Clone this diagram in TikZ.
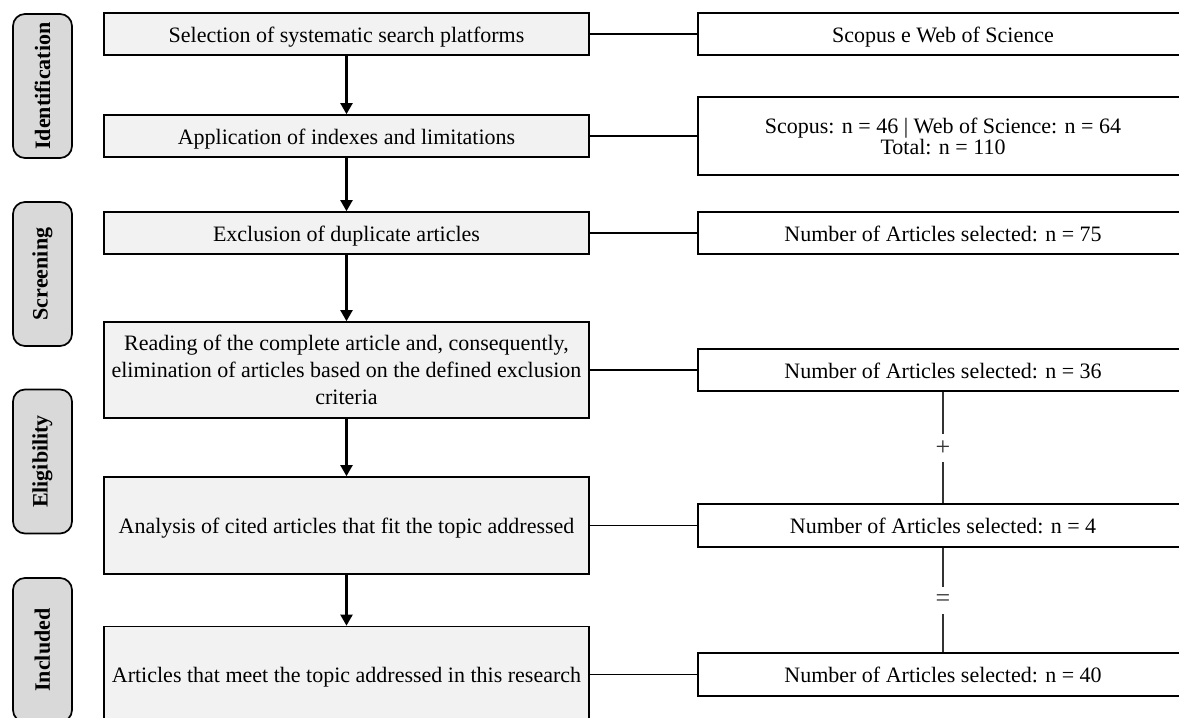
\documentclass[tikz,border=0pt]{standalone}
\usepackage{fontspec}
\setmainfont{Liberation Serif}
\usetikzlibrary{arrows.meta}
\definecolor{boxgray}{HTML}{F2F2F2}
\definecolor{pillgray}{HTML}{D9D9D9}
\definecolor{linegray}{HTML}{333333}
\begin{document}
\begin{tikzpicture}[x=1pt,y=-1pt,
  leftbox/.style={draw, line width=1.7pt, fill=boxgray, minimum width=485pt, align=center, inner sep=0pt, font=\fontsize{22}{27}\selectfont},
  rightbox/.style={draw, line width=1.7pt, fill=white, minimum width=490pt, align=center, inner sep=0pt, font=\fontsize{22}{21}\selectfont},
  oneline/.style={text height=20pt, text depth=4pt},
  pill/.style={draw, line width=1.7pt, fill=pillgray, rounded corners=12pt, minimum width=144pt, minimum height=59pt, rotate=90, inner sep=0pt, font=\bfseries\fontsize{22}{24}\selectfont},
  conn/.style={line width=1.6pt},
  arr/.style={line width=2.2pt, -{Triangle[width=12pt,length=11pt]}},
  vline/.style={line width=1.3pt, draw=linegray},
  sign/.style={inner sep=0pt, text=linegray, font=\fontsize{26}{26}\selectfont}
]
\useasboundingbox (0,0) rectangle (1179,718);

% stage pills
\node[pill] (p1) at (42.5,86) {Identification};
\node[pill] (p2) at (42.5,274) {Screening};
\node[pill] (p3) at (42.5,461.5) {Eligibility};
\node[pill] (p4) at (42.5,650) {Included};

% left boxes
\node[leftbox, oneline, minimum height=42pt] (b1) at (346.5,34) {Selection of systematic search platforms};
\node[leftbox, oneline, minimum height=42pt] (b2) at (346.5,136) {Application of indexes and limitations};
\node[leftbox, oneline, minimum height=42pt] (b3) at (346.5,233) {Exclusion of duplicate articles};
\node[leftbox, minimum height=96pt] (b4) at (346.5,370) {Reading of the complete article and, consequently,\\elimination of articles based on the defined exclusion\\criteria};
\node[leftbox, oneline, minimum height=97pt] (b5) at (346.5,525.5) {Analysis of cited articles that fit the topic addressed};
\node[leftbox, oneline, minimum height=96pt] (b6) at (346.5,674.5) {Articles that meet the topic addressed in this research};

% right boxes
\node[rightbox, oneline, minimum height=42pt] (r1) at (943,34) {Scopus e Web of Science};
\node[rightbox, minimum height=78pt] (r2) at (943,136) {Scopus: n = 46 | Web of Science: n = 64\\Total: n = 110};
\node[rightbox, oneline, minimum height=42pt] (r3) at (943,233) {Number of Articles selected: n = 75};
\node[rightbox, oneline, minimum height=42pt] (r4) at (943,370) {Number of Articles selected: n = 36};
\node[rightbox, oneline, minimum height=43pt] (r5) at (943,525.5) {Number of Articles selected: n = 4};
\node[rightbox, oneline, minimum height=43pt] (r6) at (943,674.5) {Number of Articles selected: n = 40};

% arrows
\draw[arr] (b1.south) -- (b2.north);
\draw[arr] (b2.south) -- (b3.north);
\draw[arr] (b3.south) -- (b4.north);
\draw[arr] (b4.south) -- (b5.north);
\draw[arr] (b5.south) -- (b6.north);

% horizontal connectors
\draw[conn] (b1.east) -- (r1.west);
\draw[conn] (b2.east) -- (r2.west);
\draw[conn] (b3.east) -- (r3.west);
\draw[conn] (b4.east) -- (r4.west);
\draw[conn] (b5.east) -- (r5.west);
\draw[conn] (b6.east) -- (r6.west);

% sum line
\node[sign, minimum height=28pt] (plus) at (943,448) {+};
\node[sign, minimum height=27pt] (eq) at (943,600.5) {=};
\draw[vline] (r4.south) -- (plus.north);
\draw[vline] (plus.south) -- (r5.north);
\draw[vline] (r5.south) -- (eq.north);
\draw[vline] (eq.south) -- (r6.north);
\end{tikzpicture}
\end{document}
